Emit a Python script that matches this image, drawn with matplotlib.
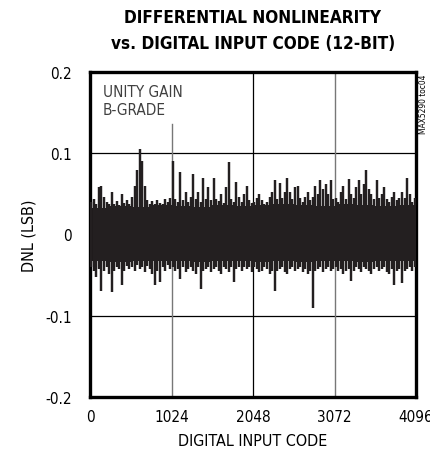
import numpy as np
import matplotlib
matplotlib.use('Agg')
import matplotlib.pyplot as plt

plt.rcParams['font.family'] = ['DejaVu Sans']
plt.rcParams['font.stretch'] = 'condensed'

# DNL envelope, one bin per 32 codes (peak up / peak down in the bin), LSB
bin_width = 32
dnl_hi = [0.040, 0.044, 0.038, 0.058, 0.060, 0.046, 0.040, 0.038, 0.052, 0.037, 0.041, 0.036, 0.050, 0.039, 0.042, 0.037,
          0.046, 0.060, 0.080, 0.105, 0.090, 0.060, 0.042, 0.038, 0.041, 0.037, 0.043, 0.039, 0.038, 0.044, 0.040, 0.045,
          0.091, 0.044, 0.040, 0.077, 0.042, 0.052, 0.040, 0.046, 0.075, 0.044, 0.052, 0.040, 0.070, 0.044, 0.058, 0.042,
          0.070, 0.044, 0.041, 0.050, 0.039, 0.058, 0.089, 0.044, 0.040, 0.065, 0.046, 0.040, 0.050, 0.060, 0.042, 0.039,
          0.040, 0.045, 0.050, 0.042, 0.037, 0.040, 0.046, 0.052, 0.067, 0.044, 0.063, 0.045, 0.052, 0.070, 0.052, 0.044,
          0.058, 0.060, 0.045, 0.040, 0.046, 0.052, 0.042, 0.046, 0.060, 0.050, 0.067, 0.056, 0.062, 0.050, 0.067, 0.044,
          0.045, 0.040, 0.052, 0.060, 0.044, 0.068, 0.050, 0.045, 0.058, 0.067, 0.050, 0.062, 0.080, 0.056, 0.050, 0.044,
          0.067, 0.045, 0.050, 0.058, 0.044, 0.040, 0.046, 0.052, 0.042, 0.045, 0.052, 0.045, 0.070, 0.050, 0.040, 0.045]
dnl_lo = [-0.040, -0.045, -0.052, -0.043, -0.069, -0.045, -0.040, -0.048, -0.071, -0.045, -0.040, -0.043, -0.062, -0.045, -0.039, -0.043,
          -0.040, -0.045, -0.038, -0.043, -0.040, -0.046, -0.039, -0.043, -0.048, -0.062, -0.045, -0.058, -0.040, -0.045, -0.038, -0.043,
          -0.040, -0.045, -0.043, -0.055, -0.040, -0.046, -0.043, -0.040, -0.045, -0.048, -0.040, -0.067, -0.045, -0.043, -0.040, -0.046,
          -0.043, -0.040, -0.045, -0.048, -0.040, -0.043, -0.046, -0.040, -0.058, -0.043, -0.040, -0.045, -0.040, -0.043, -0.040, -0.046,
          -0.040, -0.043, -0.046, -0.045, -0.040, -0.043, -0.048, -0.045, -0.070, -0.045, -0.043, -0.040, -0.046, -0.048, -0.043, -0.040,
          -0.045, -0.043, -0.040, -0.046, -0.043, -0.048, -0.045, -0.090, -0.045, -0.043, -0.040, -0.046, -0.043, -0.040, -0.045, -0.043,
          -0.040, -0.045, -0.043, -0.048, -0.045, -0.043, -0.057, -0.045, -0.040, -0.043, -0.046, -0.040, -0.043, -0.045, -0.048, -0.043,
          -0.040, -0.045, -0.043, -0.040, -0.046, -0.048, -0.043, -0.062, -0.045, -0.043, -0.060, -0.045, -0.043, -0.040, -0.045, -0.040]

# solid core of the trace, one value per 256 codes
core_width = 256
core_hi = [0.033, 0.035, 0.034, 0.036, 0.035, 0.034, 0.036, 0.035, 0.036, 0.037, 0.036, 0.035, 0.037, 0.036, 0.035, 0.036]
core_lo = [-0.032, -0.034, -0.033, -0.032, -0.033, -0.034, -0.033, -0.032, -0.034, -0.033, -0.034, -0.033, -0.032, -0.034, -0.033, -0.032]

x_ticks = [0, 1024, 2048, 3072, 4096]
y_ticks = [-0.2, -0.1, 0, 0.1, 0.2]
y_labels = ['-0.2', '-0.1', '0', '0.1', '0.2']

ink = '#231f20'

fig = plt.figure(figsize=(4.3, 4.56), dpi=100)
ax = fig.add_axes([90/430, 58/456, 326/430, 325/456])

# grid
ax.axhline(0.1, color='black', lw=0.9, zorder=1)
ax.axhline(0, color='black', lw=0.9, zorder=1)
ax.axhline(-0.1, color='black', lw=0.9, zorder=1)
ax.axvline(1024, ymax=0.84, color='#777777', lw=1.0, zorder=1)
ax.axvline(2048, color='black', lw=0.9, zorder=1)
ax.axvline(3072, color='#777777', lw=1.0, zorder=1)

# trace
core_x = np.arange(len(core_hi) + 1) * core_width
ax.fill_between(core_x, core_lo + [core_lo[-1]], core_hi + [core_hi[-1]], step='post',
                color=ink, lw=0, zorder=2)
codes = np.arange(len(dnl_hi)) * bin_width + bin_width / 2
ax.vlines(codes, dnl_lo, dnl_hi, color=ink, lw=1.75, zorder=3)

ax.set_xlim(0, 4096)
ax.set_ylim(-0.2, 0.2)
ax.set_xticks(x_ticks)
ax.set_xticklabels([str(t) for t in x_ticks], fontsize=11)
ax.set_yticks(y_ticks)
ax.set_yticklabels(y_labels, fontsize=11)
ax.tick_params(length=0, pad=9)
ax.tick_params(axis='y', pad=13)
for s in ax.spines.values():
    s.set_linewidth(2.4)

ax.set_xlabel('DIGITAL INPUT CODE', fontsize=11.5, labelpad=6)
ax.set_ylabel('DNL (LSB)', fontsize=11.5, labelpad=6)

ax.text(160, 0.185, 'UNITY GAIN\nB-GRADE', fontsize=11, color='#404040',
        va='top', ha='left', linespacing=1.2)

fig.text(253/430, 1 - 18/456, 'DIFFERENTIAL NONLINEARITY', ha='center', va='center',
         fontsize=12.3, fontweight='bold')
fig.text(253/430, 1 - 44/456, 'vs. DIGITAL INPUT CODE (12-BIT)', ha='center', va='center',
         fontsize=12.3, fontweight='bold')
fig.text(424/430, 1 - 104/456, 'MAX5290 toc04', rotation=90, ha='center', va='center',
         fontsize=6)

fig.savefig('out.png', dpi=100)
